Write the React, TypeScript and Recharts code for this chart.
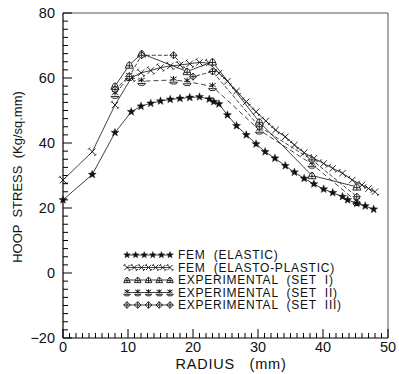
import React from 'react';
import { ComposedChart, Line, Scatter, XAxis, YAxis, ReferenceLine, Legend, Label } from 'recharts';

// ---- data ----
const elasticRadius = [0, 4.5, 8, 10.5, 12, 13.5, 15, 16.5, 18, 19.5, 21, 22.5, 23.2, 24, 25.3, 26.7, 28.2, 29.7, 31.1, 32.6, 34.2, 35.6, 37.1, 38.6, 40.1, 41.5, 43, 43.8, 45.2, 46.5, 47.8];
const elasticStress = [22.5, 30.3, 43.2, 49.6, 51.3, 52.2, 52.9, 53.4, 53.7, 54, 54.2, 53.5, 52.7, 52, 48.6, 45.3, 42.5, 39.7, 37.3, 35.3, 33, 31, 29.1, 27.4, 25.8, 24.7, 23.5, 22.5, 21.4, 20.6, 19.6];

const plasticRadius = [0, 4.5, 8, 10.5, 12, 13.5, 15, 16.5, 18, 19.5, 21, 22.5, 24, 25.3, 26.7, 28.2, 29.7, 31.2, 32.7, 34.2, 35.6, 37.1, 38.6, 40.1, 41.5, 43, 44.5, 46, 47, 48];
const plasticStress = [28.6, 37.3, 51.7, 60, 61.6, 62.3, 63.2, 63.7, 64, 64.4, 64.8, 64.6, 61.5, 59, 56, 52.7, 49.6, 46.8, 44, 41.9, 39.4, 37, 35.3, 33.7, 32.2, 30.7, 28.6, 27.1, 26, 25];

const set1Radius = [8, 10.2, 12.1, 19.1, 23, 30.2, 38.3, 45.2];
const set1Stress = [57.5, 64, 67.5, 62, 65, 46.5, 30, 26.5];

const set2Radius = [8, 10.2, 12.1, 17, 19.1, 23, 30.2, 38.3, 45.2];
const set2Stress = [55, 60.5, 59, 59.4, 58.9, 57.4, 44, 33.5, 22];

const set3Radius = [8, 10.2, 12.1, 17, 20, 23, 30.2, 38.3, 45.2];
const set3Stress = [56.5, 60.5, 67, 67, 60.4, 62, 45, 34.8, 23.5];

const seriesNames = ['FEM  (ELASTIC)', 'FEM  (ELASTO-PLASTIC)', 'EXPERIMENTAL  (SET  I)', 'EXPERIMENTAL  (SET  II)', 'EXPERIMENTAL  (SET  III)'];

const xMajorTicks = [0, 10, 20, 30, 40, 50];
const yMajorTicks = [-20, 0, 20, 40, 60, 80];
const xMinorTicks = Array.from({ length: 51 }, (_, i) => i);
const yMinorTicks = Array.from({ length: 41 }, (_, i) => -20 + i * 2.5);

const X_MIN = 0;
const Y_MIN = -20;

const toPoints = (xs: number[], ys: number[]) => xs.map((x, i) => ({ radius: x, stress: ys[i] }));

const FONT = '"Liberation Sans", Arial, Helvetica, sans-serif';
const INK = '#111';
const TICK_COLOR = '#000';

// ---- markers ----
const starPath = (cx: number, cy: number, R: number) => {
  const r = R * 0.42;
  let d = '';
  for (let i = 0; i < 10; i++) {
    const a = ((-90 + i * 36) * Math.PI) / 180;
    const rr = i % 2 === 0 ? R : r;
    d += (i === 0 ? 'M' : 'L') + (cx + rr * Math.cos(a)).toFixed(2) + ' ' + (cy + rr * Math.sin(a)).toFixed(2);
  }
  return d + 'Z';
};

const StarMark = ({ cx, cy, s = 4.2 }: any) => <path d={starPath(cx, cy, s)} fill={INK} stroke={INK} strokeWidth={0.4} />;

const CrossMark = ({ cx, cy, s = 3.2 }: any) => (
  <g stroke={INK} strokeWidth={0.9} fill="none">
    <line x1={cx - s} y1={cy - s} x2={cx + s} y2={cy + s} />
    <line x1={cx - s} y1={cy + s} x2={cx + s} y2={cy - s} />
    <line x1={cx - s - 1} y1={cy - s + 1} x2={cx - s + 1} y2={cy - s - 1} />
    <line x1={cx + s - 1} y1={cy + s + 1} x2={cx + s + 1} y2={cy + s - 1} />
  </g>
);

const HatMark = ({ cx, cy, s = 4 }: any) => (
  <g stroke={INK} strokeWidth={0.9} fill="#fff">
    <path d={`M${cx - s} ${cy + s * 0.8} L${cx - s * 0.55} ${cy - s * 0.3} Q${cx} ${cy - s * 1.3} ${cx + s * 0.55} ${cy - s * 0.3} L${cx + s} ${cy + s * 0.8} Z`} />
    <line x1={cx - s * 0.75} y1={cy + s * 0.2} x2={cx + s * 0.75} y2={cy + s * 0.2} />
    <line x1={cx} y1={cy - s * 0.8} x2={cx} y2={cy + s * 0.8} />
  </g>
);

const StandMark = ({ cx, cy, s = 4 }: any) => (
  <g stroke={INK} strokeWidth={0.9} fill="none">
    <line x1={cx} y1={cy - s} x2={cx} y2={cy + s * 0.3} />
    <line x1={cx - s * 0.8} y1={cy - s * 0.8} x2={cx + s * 0.8} y2={cy + s * 0.1} />
    <line x1={cx - s * 0.8} y1={cy + s * 0.1} x2={cx + s * 0.8} y2={cy - s * 0.8} />
    <line x1={cx - s} y1={cy + s * 0.55} x2={cx + s} y2={cy + s * 0.55} />
    <path d={`M${cx - s} ${cy + s * 0.55} L${cx - s * 0.6} ${cy + s} L${cx + s * 0.6} ${cy + s} L${cx + s} ${cy + s * 0.55}`} />
  </g>
);

const DiamondMark = ({ cx, cy, s = 3.5 }: any) => (
  <g stroke={INK} strokeWidth={0.9} fill="#fff">
    <path d={`M${cx} ${cy - s} L${cx + s} ${cy} L${cx} ${cy + s} L${cx - s} ${cy} Z`} />
    <line x1={cx} y1={cy - s} x2={cx} y2={cy + s} />
    <line x1={cx - s} y1={cy} x2={cx + s} y2={cy} />
  </g>
);

const markers = [StarMark, CrossMark, HatMark, StandMark, DiamondMark];

const makeDot = (M: any) => (p: any) => {
  if (p.cx == null || p.cy == null) return <g key={`e${p.index}`} />;
  return <g key={`d${p.index}`}><M cx={p.cx} cy={p.cy} /></g>;
};

// ---- tick marks drawn as scatter shapes on the axes ----
const xTickPoints = xMinorTicks.map((v) => ({ radius: v, stress: Y_MIN, major: xMajorTicks.includes(v) }));
const yTickPoints = yMinorTicks.map((v) => ({ radius: X_MIN, stress: v, major: yMajorTicks.includes(v) }));

const XTickShape = (p: any) => {
  const len = p.payload && p.payload.major ? 9 : 5;
  return <line x1={p.cx} y1={p.cy} x2={p.cx} y2={p.cy - len} stroke={TICK_COLOR} strokeWidth={1} />;
};
const YTickShape = (p: any) => {
  const len = p.payload && p.payload.major ? 9 : 5;
  return <line x1={p.cx} y1={p.cy} x2={p.cx + len} y2={p.cy} stroke={TICK_COLOR} strokeWidth={1} />;
};

// ---- axis tick labels ----
const XTick = (props: any) => {
  const { x, y, payload } = props;
  return (
    <text x={x} y={y + 14} textAnchor="middle" fontSize={14.5} fontFamily={FONT} fill={INK}>
      {payload.value}
    </text>
  );
};

const YTick = (props: any) => {
  const { x, y, payload } = props;
  const v = payload.value;
  return (
    <text x={x - 8} y={y} dy="0.36em" textAnchor="end" fontSize={14.5} fontFamily={FONT} fill={INK}>
      {v < 0 ? `\u2212${-v}` : v}
    </text>
  );
};

// ---- legend ----
const LegendBox = () => {
  const rowY = [10, 22.5, 35, 47.5, 60];
  const counts = [6, 7, 5, 5, 5];
  const x0 = 7;
  const x1 = 50;
  return (
    <svg width={240} height={72} style={{ display: 'block' }}>
      {seriesNames.map((name, i) => {
        const M = markers[i];
        const n = counts[i];
        const pts = Array.from({ length: n }, (_, k) => x0 + ((x1 - x0) * k) / (n - 1));
        return (
          <g key={name}>
            <line x1={x0} y1={rowY[i]} x2={x1} y2={rowY[i]} stroke={INK} strokeWidth={0.8} />
            {pts.map((px, k) => (
              <M key={k} cx={px} cy={rowY[i]} s={i === 0 ? 3.5 : i === 1 ? 2.6 : 3.3} />
            ))}
            <text x={58} y={rowY[i]} dy="0.36em" fontSize={12} letterSpacing={0.75} fontFamily={FONT} fill={INK} style={{ whiteSpace: 'pre' }}>
              {name}
            </text>
          </g>
        );
      })}
    </svg>
  );
};

export default function App() {
  const series = [
    { data: toPoints(elasticRadius, elasticStress), dash: undefined },
    { data: toPoints(plasticRadius, plasticStress), dash: undefined },
    { data: toPoints(set1Radius, set1Stress), dash: undefined },
    { data: toPoints(set2Radius, set2Stress), dash: '5 3' },
    { data: toPoints(set3Radius, set3Stress), dash: '4 2' },
  ];
  return (
    <div style={{ position: 'absolute', left: 0, top: 0, width: 399, height: 374, background: '#fff' }}>
      <ComposedChart width={399} height={374} margin={{ top: 13, right: 11, bottom: 0, left: 13 }}>
        <XAxis
          dataKey="radius"
          type="number"
          domain={[0, 50]}
          ticks={xMajorTicks}
          interval={0}
          tickLine={false}
          tickSize={0}
          tickMargin={0}
          tick={<XTick />}
          height={36}
          axisLine={{ stroke: '#000', strokeWidth: 1.2 }}
        >
          <Label
            content={() => (
              <text x={231} y={369} textAnchor="middle" fontSize={14.5} letterSpacing={0.8} fontFamily={FONT} fill={INK} style={{ whiteSpace: 'pre' }}>
                {'RADIUS   (mm)'}
              </text>
            )}
          />
        </XAxis>
        <YAxis
          dataKey="stress"
          type="number"
          domain={[-20, 80]}
          ticks={yMajorTicks}
          interval={0}
          tickLine={false}
          tickSize={0}
          tickMargin={0}
          tick={<YTick />}
          width={50}
          axisLine={{ stroke: '#000', strokeWidth: 1.2 }}
        >
          <Label
            content={() => (
              <text
                transform="translate(17,177) rotate(-90)"
                textAnchor="middle"
                dy="0.36em"
                fontSize={13}
                fontFamily={FONT}
                fill={INK}
                style={{ whiteSpace: 'pre' }}
              >
                {'HOOP  STRESS  (Kg/sq.mm)'}
              </text>
            )}
          />
        </YAxis>
        <ReferenceLine y={80} stroke="#555" strokeWidth={1} />
        <ReferenceLine x={50} stroke="#555" strokeWidth={1} />
        <Scatter data={xTickPoints} dataKey="stress" shape={XTickShape} isAnimationActive={false} />
        <Scatter data={yTickPoints} dataKey="stress" shape={YTickShape} isAnimationActive={false} />
        {series.map((s, i) => (
          <Line
            key={seriesNames[i]}
            name={seriesNames[i]}
            data={s.data}
            dataKey="stress"
            type="linear"
            stroke={INK}
            strokeWidth={0.8}
            strokeDasharray={s.dash}
            dot={makeDot(markers[i])}
            activeDot={false}
            isAnimationActive={false}
          />
        ))}
        <Legend
          layout="horizontal"
          verticalAlign="middle"
          align="center"
          content={() => <LegendBox />}
          wrapperStyle={{ left: 120, top: 245, width: 240, height: 72 }}
        />
      </ComposedChart>
    </div>
  );
}
